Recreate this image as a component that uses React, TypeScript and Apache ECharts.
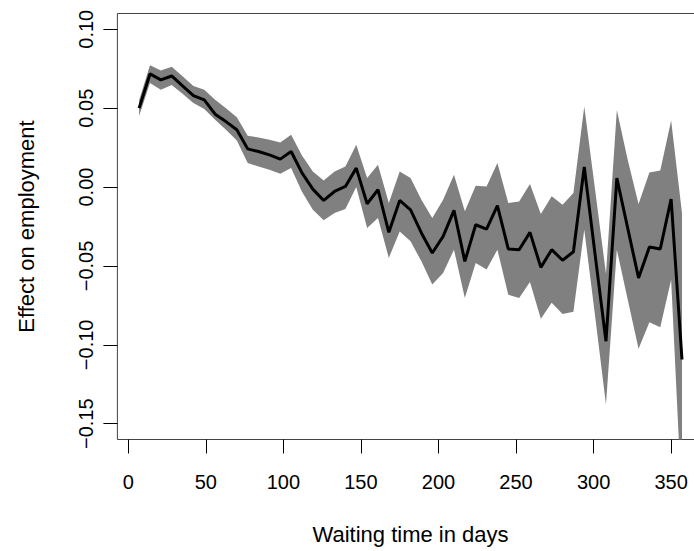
import React, { useEffect, useRef } from "react";
import * as echarts from "echarts";

const waitingDays = [7, 14, 21, 28, 35, 42, 49, 56, 63, 70, 77, 84, 91, 98, 105, 112, 119, 126, 133, 140, 147, 154, 161, 168, 175, 182, 189, 196, 203, 210, 217, 224, 231, 238, 245, 252, 259, 266, 273, 280, 287, 294, 301, 308, 315, 322, 329, 336, 343, 350, 357];

const effectMean = [0.050, 0.0717, 0.0679, 0.0704, 0.0641, 0.058, 0.0553, 0.0462, 0.0415, 0.0363, 0.0242, 0.0225, 0.0204, 0.0177, 0.0225, 0.009, -0.0013, -0.0085, -0.0028, 0.0004, 0.012, -0.0106, -0.0017, -0.0287, -0.0085, -0.0144, -0.0291, -0.0418, -0.0313, -0.0148, -0.0471, -0.0239, -0.0266, -0.0118, -0.0392, -0.0397, -0.0287, -0.0509, -0.0397, -0.0464, -0.041, 0.0127, -0.043, -0.0977, 0.0057, -0.026, -0.0576, -0.038, -0.0392, -0.0076, -0.1093];

const effectUpper = [0.055, 0.0772, 0.0738, 0.0763, 0.0703, 0.0641, 0.0616, 0.0553, 0.050, 0.0443, 0.0325, 0.0314, 0.030, 0.0282, 0.0331, 0.020, 0.0099, 0.0042, 0.0099, 0.013, 0.0268, 0.0057, 0.0141, -0.0101, 0.0099, 0.0057, -0.008, -0.0196, -0.008, 0.0078, -0.0154, 0.0008, 0.0004, 0.0152, -0.0101, -0.0091, 0.0019, -0.0171, -0.0059, -0.0112, -0.0038, 0.051, -0.0019, -0.0549, 0.0489, 0.0173, -0.0108, 0.0092, 0.0105, 0.0422, -0.0165];

const effectLower = [0.045, 0.066, 0.0616, 0.0647, 0.0591, 0.0532, 0.0494, 0.0426, 0.0363, 0.0295, 0.0152, 0.013, 0.011, 0.0084, 0.012, -0.003, -0.0144, -0.0211, -0.0165, -0.0139, 0.0, -0.026, -0.0196, -0.0449, -0.0281, -0.0344, -0.0471, -0.0618, -0.0544, -0.0397, -0.0703, -0.0481, -0.0523, -0.0397, -0.0682, -0.0703, -0.0601, -0.0835, -0.0734, -0.0804, -0.0791, -0.027, -0.0819, -0.1378, -0.0397, -0.0713, -0.1025, -0.0857, -0.0889, -0.0587, -0.202];

const xTicks = [0, 50, 100, 150, 200, 250, 300, 350];
const yTicks = [-0.15, -0.1, -0.05, 0, 0.05, 0.1];

const FONT = "'Liberation Sans', Arial, Helvetica, sans-serif";

export default function App() {
  const ref = useRef<HTMLDivElement>(null);

  useEffect(() => {
    if (!ref.current) return;
    const chart = echarts.init(ref.current, undefined, { renderer: "svg" });
    const bandData = waitingDays.map((d, i) => [d, effectLower[i], effectUpper[i]]);
    const meanData = waitingDays.map((d, i) => [d, effectMean[i]]);

    const renderBand = (params: any, api: any) => {
      if (params.dataIndex !== 0) return null;
      const upperPts = waitingDays.map((d, i) => api.coord([d, effectUpper[i]]));
      const lowerPts = waitingDays.map((d, i) => api.coord([d, effectLower[i]])).reverse();
      const cs = params.coordSys;
      return {
        type: "polygon",
        shape: { points: upperPts.concat(lowerPts) },
        style: { fill: "#808080", stroke: "none" },
        clipPath: {
          type: "rect",
          shape: { x: cs.x, y: cs.y, width: cs.width, height: cs.height },
        },
      };
    };

    chart.setOption({
      animation: false,
      backgroundColor: "#ffffff",
      grid: {
        left: 117.4,
        right: 0.3,
        top: 13.5,
        bottom: 111.5,
        show: true,
        borderColor: "#444",
        borderWidth: 1,
        backgroundColor: "transparent",
      },
      xAxis: {
        type: "value",
        min: -7,
        max: 371,
        name: "Waiting time in days",
        nameLocation: "middle",
        nameGap: 84,
        nameTextStyle: { fontFamily: FONT, fontSize: 22, color: "#000" },
        axisLine: { show: false, onZero: false },
        splitLine: { show: false },
        axisTick: {
          show: true,
          customValues: xTicks,
          length: 14,
          lineStyle: { color: "#000", width: 1 },
        },
        axisLabel: {
          customValues: xTicks,
          fontFamily: FONT,
          fontSize: 20,
          color: "#000",
          margin: 32,
        },
      },
      yAxis: {
        type: "value",
        min: -0.16,
        max: 0.11,
        name: "Effect on employment",
        nameLocation: "middle",
        nameGap: 80,
        nameRotate: 90,
        nameTextStyle: { fontFamily: FONT, fontSize: 22, color: "#000" },
        axisLine: { show: false, onZero: false },
        splitLine: { show: false },
        axisTick: {
          show: true,
          customValues: yTicks,
          length: 14,
          lineStyle: { color: "#000", width: 1 },
        },
        axisLabel: {
          customValues: yTicks,
          rotate: 90,
          fontFamily: FONT,
          fontSize: 20,
          color: "#000",
          margin: 21,
          formatter: (v: number) => (v < -1e-9 ? "\u2212" : "") + Math.abs(v).toFixed(2),
        },
      },
      series: [
        {
          type: "custom",
          data: bandData,
          renderItem: renderBand,
          silent: true,
          z: 1,
        },
        {
          type: "line",
          data: meanData,
          symbol: "none",
          lineStyle: { color: "#000", width: 3 },
          z: 3,
        },
      ],
    });
    return () => chart.dispose();
  }, []);

  return (
    <div
      style={{
        position: "absolute",
        left: 0,
        top: 0,
        width: 694,
        height: 551,
        overflow: "hidden",
        background: "#fff",
      }}
    >
      <div ref={ref} style={{ width: 704, height: 551 }} />
    </div>
  );
}
